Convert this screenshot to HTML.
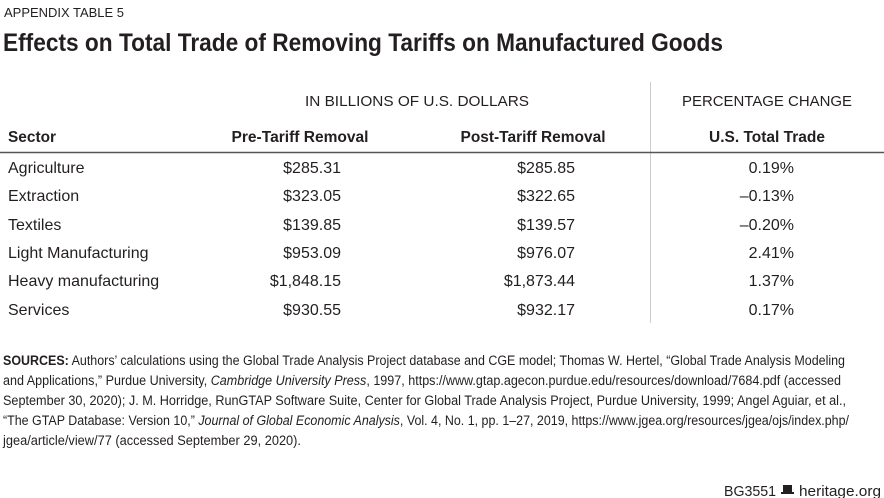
<!DOCTYPE html><html><head><style>body{margin:0;background:#fff}svg{display:block}text{font-family:"Liberation Sans Narrow","Liberation Sans",sans-serif;fill:#231f20}</style></head><body>
<svg width="884" height="498" xmlns="http://www.w3.org/2000/svg">
<text x="4" y="17" font-size="13" textLength="120" lengthAdjust="spacingAndGlyphs" fill="#444">APPENDIX TABLE 5</text>
<text x="3" y="51" font-size="25" font-weight="bold" textLength="720" lengthAdjust="spacingAndGlyphs">Effects on Total Trade of Removing Tariffs on Manufactured Goods</text>
<line x1="650.5" y1="82" x2="650.5" y2="323" stroke="#ccc" stroke-width="1"/>
<line x1="0" y1="152.5" x2="884" y2="152.5" stroke="#555" stroke-width="1.5"/>
<g font-size="15">
<text x="417" y="106" text-anchor="middle" textLength="224" lengthAdjust="spacingAndGlyphs">IN BILLIONS OF U.S. DOLLARS</text>
<text x="767" y="106" text-anchor="middle" textLength="170" lengthAdjust="spacingAndGlyphs">PERCENTAGE CHANGE</text>
</g>
<g font-size="16" font-weight="bold">
<text x="8" y="142" textLength="48" lengthAdjust="spacingAndGlyphs">Sector</text>
<text x="300" y="142" text-anchor="middle" textLength="137" lengthAdjust="spacingAndGlyphs">Pre-Tariff Removal</text>
<text x="533" y="142" text-anchor="middle" textLength="145" lengthAdjust="spacingAndGlyphs">Post-Tariff Removal</text>
<text x="767" y="142" text-anchor="middle" textLength="116" lengthAdjust="spacingAndGlyphs">U.S. Total Trade</text>
</g>
<g font-size="16">
<text x="8" y="173">Agriculture</text><text x="341" y="173" text-anchor="end">$285.31</text><text x="575" y="173" text-anchor="end">$285.85</text><text x="794" y="173" text-anchor="end">0.19%</text>
<text x="8" y="201">Extraction</text><text x="341" y="201" text-anchor="end">$323.05</text><text x="575" y="201" text-anchor="end">$322.65</text><text x="794" y="201" text-anchor="end">–0.13%</text>
<text x="8" y="230">Textiles</text><text x="341" y="230" text-anchor="end">$139.85</text><text x="575" y="230" text-anchor="end">$139.57</text><text x="794" y="230" text-anchor="end">–0.20%</text>
<text x="8" y="258">Light Manufacturing</text><text x="341" y="258" text-anchor="end">$953.09</text><text x="575" y="258" text-anchor="end">$976.07</text><text x="794" y="258" text-anchor="end">2.41%</text>
<text x="8" y="286">Heavy manufacturing</text><text x="341" y="286" text-anchor="end">$1,848.15</text><text x="575" y="286" text-anchor="end">$1,873.44</text><text x="794" y="286" text-anchor="end">1.37%</text>
<text x="8" y="315">Services</text><text x="341" y="315" text-anchor="end">$930.55</text><text x="575" y="315" text-anchor="end">$932.17</text><text x="794" y="315" text-anchor="end">0.17%</text>
</g>
<g font-size="13.5">
<text x="3" y="365" textLength="842" lengthAdjust="spacingAndGlyphs"><tspan font-weight="bold">SOURCES:</tspan> Authors’ calculations using the Global Trade Analysis Project database and CGE model; Thomas W. Hertel, “Global Trade Analysis Modeling</text>
<text x="3" y="385" textLength="838" lengthAdjust="spacingAndGlyphs">and Applications,” Purdue University, <tspan font-style="italic">Cambridge University Press</tspan>, 1997, https://www.gtap.agecon.purdue.edu/resources/download/7684.pdf (accessed</text>
<text x="3" y="405" textLength="843" lengthAdjust="spacingAndGlyphs">September 30, 2020); J. M. Horridge, RunGTAP Software Suite, Center for Global Trade Analysis Project, Purdue University, 1999; Angel Aguiar, et al.,</text>
<text x="3" y="425" textLength="846" lengthAdjust="spacingAndGlyphs">“The GTAP Database: Version 10,” <tspan font-style="italic">Journal of Global Economic Analysis</tspan>, Vol. 4, No. 1, pp. 1–27, 2019, https://www.jgea.org/resources/jgea/ojs/index.php/</text>
<text x="3" y="445" textLength="298" lengthAdjust="spacingAndGlyphs">jgea/article/view/77 (accessed September 29, 2020).</text>
</g>
<text x="724" y="496" font-size="15" textLength="52" lengthAdjust="spacingAndGlyphs">BG3551</text>
<rect x="783" y="485" width="9" height="7" fill="#231f20"/><rect x="781" y="492" width="13" height="2" fill="#231f20"/>
<text x="799" y="496" font-size="15" textLength="82" lengthAdjust="spacingAndGlyphs">heritage.org</text>
</svg></body></html>
